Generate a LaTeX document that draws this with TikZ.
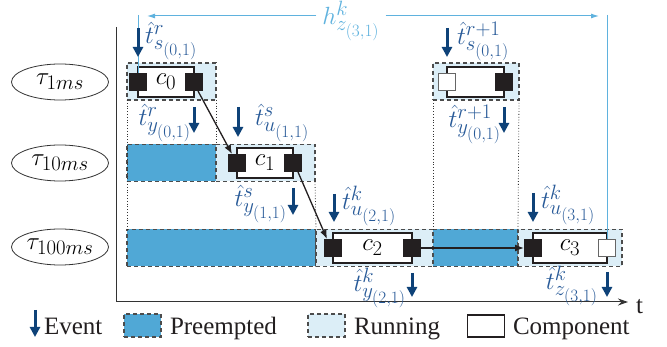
\documentclass[tikz,border=0pt]{standalone}
\usepackage{fontspec}
\setmainfont{Liberation Serif}
\usetikzlibrary{arrows.meta,shapes.geometric}
\DeclareMathSizes{29}{29}{22}{17}
\DeclareMathSizes{28}{28}{20}{14}
\definecolor{evblue}{RGB}{14,66,120}
\definecolor{lblue}{RGB}{40,90,152}
\definecolor{hblue}{RGB}{95,178,222}
\definecolor{preempt}{RGB}{80,168,214}
\definecolor{runfill}{RGB}{220,238,247}
\definecolor{dgray}{RGB}{35,31,32}
\begin{document}
\begin{tikzpicture}[x=1pt,y=-1pt,
  every node/.style={inner sep=0pt, outer sep=0pt},
  dbox/.style={draw=black!70, dash pattern=on 4pt off 3pt, line width=1.1pt, minimum height=37pt},
  runbox/.style={dbox, fill=runfill},
  prebox/.style={dbox, fill=preempt},
  comp/.style={draw=dgray, line width=1.8pt, fill=white, minimum height=30pt, font=\fontsize{29}{34}\selectfont},
  blk/.style={fill=dgray, minimum size=18pt},
  wht/.style={fill=white, draw=black!60, line width=0.9pt, minimum size=17pt},
  ev/.style={evblue, line width=3pt, -{Triangle[width=10pt,length=10pt]}},
  lab/.style={text=lblue, font=\fontsize{29}{34}\selectfont},
  legtext/.style={anchor=base west, font=\fontsize{25}{30}\selectfont, text=dgray},
  conn/.style={dgray, line width=1.3pt, -{Latex[length=9pt,width=7pt]}},
  dots/.style={black!80, line width=0.8pt, dotted},
  hline/.style={hblue, line width=1pt},
  task/.style={ellipse, draw=black!80, line width=0.8pt, minimum width=97pt, minimum height=36pt, font=\fontsize{28}{33}\selectfont}
]
\useasboundingbox (0,0) rectangle (667,347);

% tasks
\node[task] (t1) at (60,82) {$\tau_{1ms}$};
\node[task] (t2) at (60,163) {$\tau_{10ms}$};
\node[task] (t3) at (60,247) {$\tau_{100ms}$};

% axes
\coordinate (ya) at (116,27);
\coordinate (o) at (116,302);
\coordinate (xa) at (628,302);
\draw[black!80, line width=1pt, -{Stealth[length=10pt,width=7pt]}] (ya) -- (o) -- (xa);
\node[legtext] (tlab) at (636,314) {t};

% row boxes
\node[runbox, minimum width=89pt] (r1a) at (171.5,81.5) {};
\node[runbox, minimum width=86pt] (r1b) at (476,81.5) {};
\node[prebox, minimum width=89pt] (p2a) at (171.5,163) {};
\node[runbox, minimum width=99pt] (r2a) at (265.5,163) {};
\node[prebox, minimum width=189pt] (p3a) at (221.5,248) {};
\node[runbox, minimum width=117pt] (r3a) at (374.5,248) {};
\node[prebox, minimum width=85pt] (p3b) at (475.5,248) {};
\node[runbox, minimum width=104pt] (r3b) at (570,248) {};

% dotted guides
\draw[dots] (r1a.south west) -- (p3a.north west);
\draw[dots] (r1a.south east) -- (p2a.north east);
\draw[dots] (r2a.south east) -- (r3a.north west);
\draw[dots] (r1b.south west) -- (r3a.north east);
\draw[dots] (r1b.south east) -- (r3b.north west);

% components
\node[comp, minimum width=56pt] (c0) at (166,82) {$c_0$};
\node[comp, minimum width=56pt] (c1) at (265,163) {$c_1$};
\node[comp, minimum width=79pt] (c2) at (372.5,248) {$c_2$};
\node[comp, minimum width=74pt] (c3) at (570,248) {$c_3$};
\node[comp, minimum width=57pt] (c4) at (475.5,82) {};

\node[blk] (s0L) at (c0.west) {};
\node[blk] (s0R) at (c0.east) {};
\node[blk] (s1L) at (c1.west) {};
\node[blk] (s1R) at (c1.east) {};
\node[blk] (s2L) at (c2.west) {};
\node[blk] (s2R) at (c2.east) {};
\node[blk] (s3L) at (c3.west) {};
\node[wht] (s3R) at (c3.east) {};
\node[wht] (s4L) at (c4.west) {};
\node[blk] (s4R) at (c4.east) {};

% connectors
\draw[conn] ([xshift=4pt]s0R.south) -- ([xshift=-5pt]s1L.north);
\draw[conn] ([xshift=5pt]s1R.south) -- ([xshift=-6pt]s2L.north);
\draw[conn] (s2R.east) -- (s3L.west);

% hyperperiod
\node[text=hblue, font=\fontsize{29}{34}\selectfont] (h) at (351,21) {$h^k_{z_{(3,1)}}$};
\coordinate (hl) at (147,16);
\coordinate (hr) at (599,16);
\coordinate (hvl) at (138,15);
\coordinate (hvr) at (607,15);
\draw[hline, -{Latex[length=8pt,width=5pt]}] ([xshift=-6pt]h.west |- hl) -- (hl);
\draw[hline, -{Latex[length=8pt,width=5pt]}] ([xshift=6pt]h.east |- hr) -- (hr);
\draw[hline] (hvl) -- (s0L.north);
\draw[hline] (hvr) -- (s3R.north);

% events
\coordinate (e1a) at (138,28);  \coordinate (e1b) at (138,57);
\coordinate (e2a) at (194,107); \coordinate (e2b) at (194,133);
\coordinate (e3a) at (238,107); \coordinate (e3b) at (238,137);
\coordinate (e4a) at (293,188); \coordinate (e4b) at (293,215);
\coordinate (e5a) at (334,194); \coordinate (e5b) at (334,222);
\coordinate (e6a) at (412,273); \coordinate (e6b) at (412,297);
\coordinate (e7a) at (533,193); \coordinate (e7b) at (533,222);
\coordinate (e8a) at (607,272); \coordinate (e8b) at (607,297);
\coordinate (e9a) at (447,28);  \coordinate (e9b) at (447,57);
\coordinate (e10a) at (504,107); \coordinate (e10b) at (504,133);
\foreach \i in {1,...,10} {\draw[ev] (e\i a) -- (e\i b);}

\node[lab, anchor=west] (l1) at (145,41) {$\hat{t}^{r}_{s_{(0,1)}}$};
\node[lab, anchor=east] (l2) at (191,123) {$\hat{t}^{r}_{y_{(0,1)}}$};
\node[lab, anchor=west] (l3) at (255,123) {$\hat{t}^{s}_{u_{(1,1)}}$};
\node[lab, anchor=east] (l4) at (287,204) {$\hat{t}^{s}_{y_{(1,1)}}$};
\node[lab, anchor=west] (l5) at (342,206) {$\hat{t}^{k}_{u_{(2,1)}}$};
\node[lab, anchor=east] (l6) at (406,288) {$\hat{t}^{k}_{y_{(2,1)}}$};
\node[lab, anchor=west] (l7) at (541,205) {$\hat{t}^{k}_{u_{(3,1)}}$};
\node[lab, anchor=east] (l8) at (598,286) {$\hat{t}^{k}_{z_{(3,1)}}$};
\node[lab, anchor=west] (l9) at (457,41) {$\hat{t}^{r+1}_{s_{(0,1)}}$};
\node[lab, anchor=east] (l10) at (501,124) {$\hat{t}^{r+1}_{y_{(0,1)}}$};

% legend
\coordinate (lea) at (35,310); \coordinate (leb) at (35,337);
\draw[ev] (lea) -- (leb);
\node[legtext] (lgev) at (44,335) {Event};
\node[prebox, minimum width=37pt, minimum height=23pt] (lgp) at (142.5,325.5) {};
\node[legtext] (lgpt) at (170,335) {Preempted};
\node[runbox, minimum width=37pt, minimum height=23pt] (lgr) at (326.5,325.5) {};
\node[legtext] (lgrt) at (354,335) {Running};
\node[comp, minimum width=37pt, minimum height=22pt] (lgc) at (486,326) {};
\node[legtext] (lgct) at (513,335) {Component};
\end{tikzpicture}
\end{document}
